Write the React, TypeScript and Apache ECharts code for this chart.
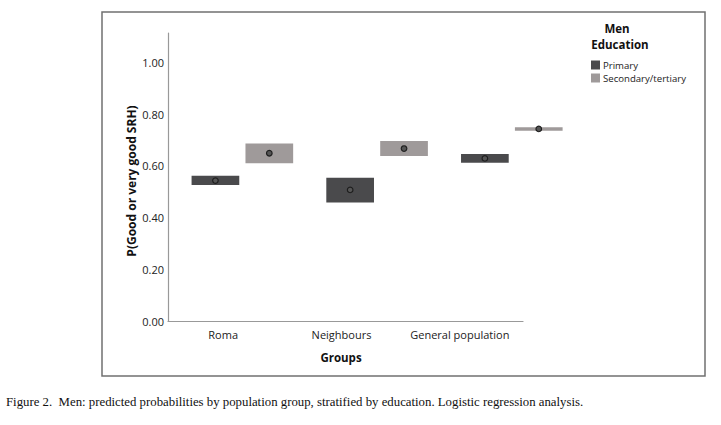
import React, { useEffect, useRef } from "react";
import * as echarts from "echarts";

const groups = ["Roma", "Neighbours", "General population"];
const educationLevels = ["Primary", "Secondary/tertiary"];
// predicted probability, lower CI, upper CI
const primaryEst = [0.543, 0.507, 0.629];
const primaryLow = [0.526, 0.458, 0.612];
const primaryHigh = [0.562, 0.554, 0.646];
const secondaryEst = [0.649, 0.667, 0.743];
const secondaryLow = [0.61, 0.638, 0.736];
const secondaryHigh = [0.687, 0.696, 0.749];
const yTicks = [0, 0.2, 0.4, 0.6, 0.8, 1.0];

const colors = ["#4a4a4c", "#9f9a9a"];
const FONT = "'Open Sans', 'DejaVu Sans', sans-serif";

export default function App() {
  const ref = useRef<HTMLDivElement>(null);
  useEffect(() => {
    if (!ref.current) return;
    const chart = echarts.init(ref.current, null, { renderer: "svg" });
    const makeData = (est: number[], lo: number[], hi: number[], off: number) =>
      est.map((v, i) => [i + off, lo[i], hi[i], v]);
    const renderItem = (color: string) => (params: any, api: any) => {
      const x = api.value(0);
      const lo = api.value(1);
      const hi = api.value(2);
      const est = api.value(3);
      const halfW = 0.177;
      const p1 = api.coord([x - halfW, hi]);
      const p2 = api.coord([x + halfW, lo]);
      const pe = api.coord([x, est]);
      let h = p2[1] - p1[1];
      let y = p1[1];
      if (h < 3) {
        y = (p1[1] + p2[1]) / 2 - 1.5;
        h = 3;
      }
      return {
        type: "group",
        children: [
          {
            type: "rect",
            shape: { x: p1[0], y, width: p2[0] - p1[0], height: h },
            style: { fill: color },
          },
          {
            type: "circle",
            shape: { cx: pe[0], cy: pe[1], r: 2.8 },
            style: { fill: "#555", stroke: "#1e1e1e", lineWidth: 1.2 },
          },
        ],
      };
    };
    chart.setOption({
      animation: false,
      textStyle: { fontFamily: FONT },
      grid: { left: 168, right: 198, top: 33, bottom: 104, containLabel: false },
      legend: {
        data: educationLevels.map((n, i) => ({ name: n, itemStyle: { color: colors[i] } })),
        orient: "vertical",
        left: 586,
        top: 55,
        icon: "rect",
        itemWidth: 9,
        itemHeight: 9,
        itemGap: 3,
        textStyle: { fontSize: 9.6, color: "#222", fontFamily: FONT, padding: [0, 0, 0, -2] },
        selectedMode: false,
      },
      xAxis: [
        {
          type: "category",
          data: groups,
          boundaryGap: true,
          axisLine: { lineStyle: { color: "#999", width: 1.2 } },
          axisTick: { show: false },
          axisLabel: {
            fontSize: 11,
            color: "#222",
            margin: 8,
            interval: 0,
            padding: [0, 8, 0, 0],
            fontFamily: FONT,
          },
        },
        {
          type: "value",
          min: -0.552,
          max: 2.083,
          show: false,
        },
      ],
      yAxis: {
        type: "value",
        min: 0,
        max: 1.114,
        interval: 0.2,
        splitLine: { show: false },
        axisTick: { show: false },
        axisLine: { show: true, onZero: false, lineStyle: { color: "#999", width: 1.2 } },
        axisLabel: {
          fontSize: 11,
          color: "#222",
          margin: 4,
          showMaxLabel: false,
          formatter: (v: number) => (yTicks.some((t) => Math.abs(t - v) < 1e-9) ? v.toFixed(2) : ""),
        },
      },
      series: [
        {
          name: educationLevels[0],
          type: "custom",
          xAxisIndex: 1,
          renderItem: renderItem(colors[0]),
          data: makeData(primaryEst, primaryLow, primaryHigh, -0.2),
          clip: false,
          itemStyle: { color: colors[0] },
        },
        {
          name: educationLevels[1],
          type: "custom",
          xAxisIndex: 1,
          renderItem: renderItem(colors[1]),
          data: makeData(secondaryEst, secondaryLow, secondaryHigh, 0.2),
          clip: false,
          itemStyle: { color: colors[1] },
        },
      ],
      graphic: [
        {
          type: "rect",
          shape: { x: 102, y: 12, width: 603, height: 364 },
          style: { fill: "none", stroke: "#707070", lineWidth: 1.5 },
          silent: true,
        },
        {
          type: "text",
          x: 131,
          y: 181,
          rotation: Math.PI / 2,
          style: {
            text: "P(Good or very good SRH)",
            fontSize: 12,
            fontWeight: "bold",
            fontFamily: FONT,
            fill: "#111",
            align: "center",
            verticalAlign: "middle",
          },
        },
        {
          type: "text",
          x: 341,
          y: 357,
          style: {
            text: "Groups",
            fontSize: 11.5,
            fontWeight: "bold",
            fontFamily: FONT,
            fill: "#111",
            align: "center",
            verticalAlign: "middle",
          },
        },
        {
          type: "text",
          x: 617,
          y: 28,
          style: {
            text: "Men",
            fontSize: 11.5,
            fontWeight: "bold",
            fontFamily: FONT,
            fill: "#111",
            align: "center",
            verticalAlign: "middle",
          },
        },
        {
          type: "text",
          x: 620,
          y: 44,
          style: {
            text: "Education",
            fontSize: 11.5,
            fontWeight: "bold",
            fontFamily: FONT,
            fill: "#111",
            align: "center",
            verticalAlign: "middle",
          },
        },
        {
          type: "text",
          x: 6,
          y: 402,
          style: {
            text: "Figure 2.  Men: predicted probabilities by population group, stratified by education. Logistic regression analysis.",
            fontSize: 12.8,
            fontFamily: "'Liberation Serif', 'DejaVu Serif', serif",
            fill: "#111",
            align: "left",
            verticalAlign: "middle",
          },
        },
      ],
    });
    return () => chart.dispose();
  }, []);
  return (
    <div
      ref={ref}
      style={{ position: "fixed", left: 0, top: 0, width: 721, height: 425, background: "#fff" }}
    />
  );
}
